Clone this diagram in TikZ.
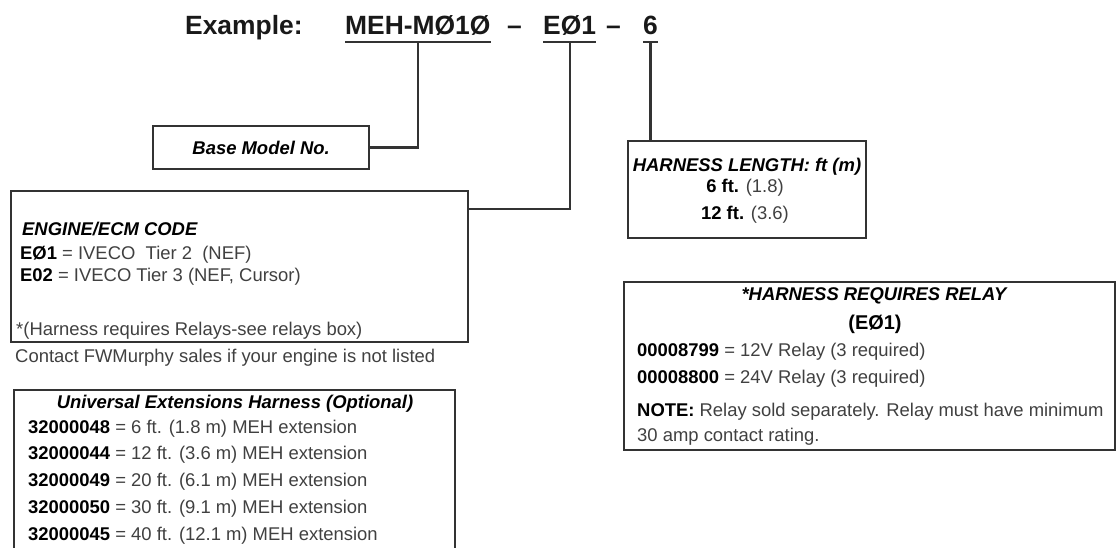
\documentclass[tikz,border=0pt]{standalone}
\usepackage{fontspec}
\setmainfont{Liberation Sans}
\usepackage{xcolor}
\usepackage{tikz}
\usetikzlibrary{calc}

\definecolor{inkgray}{gray}{0.25}
\newcommand{\partno}[1]{{\bfseries\color{black}#1}}

\tikzset{
  framebox/.style={draw=black!80, line width=2.2bp, inner sep=0pt, anchor=north west},
  wire/.style={draw=black!80, line width=2.2bp},
  txtline/.style={anchor=base west, inner sep=0pt, text=inkgray, font=\fontsize{18.5}{22}\selectfont},
  txtmid/.style={txtline, anchor=base},
  headline/.style={txtline, text=black, font=\fontsize{18.5}{22}\selectfont\bfseries\itshape},
  titletext/.style={anchor=base west, inner sep=0pt, text depth=7bp, text=black!90, font=\fontsize{26.5}{30}\selectfont\bfseries},
}

\begin{document}
\begin{tikzpicture}[x=1bp,y=-1bp]
\useasboundingbox (0,0) rectangle (1117,548);

% Example line
\node[titletext] (ex) at (185,35) {Example:};
\node[titletext] (model) at (345,35) {MEH-MØ1Ø};
\node[titletext] (dash1) at (507,35) {–};
\node[titletext] (code) at (543,35) {EØ1};
\node[titletext] (dash2) at (606,35) {–};
\node[titletext] (len) at (643,35) {6};

% Underlines
\foreach \n in {model,code,len} {
  \draw[wire] (\n.south west) -- (\n.south east);
}

% Boxes
\node[framebox, minimum width=216bp, minimum height=43bp,
  font=\fontsize{18.5}{22}\selectfont\bfseries\itshape] (base) at (152,125) {Base Model No.};
\node[framebox, minimum width=457bp, minimum height=151bp] (engine) at (10,190) {};
\node[framebox, minimum width=238bp, minimum height=97bp] (lenbox) at (627,140) {};
\node[framebox, minimum width=491bp, minimum height=168bp] (relay) at (623,281) {};
\node[framebox, minimum width=441bp, minimum height=175bp] (ext) at (13,389) {};

% Connectors
\draw[wire] (model.south) |- (base.east);
\draw[wire] (code.south) |- ([yshift=-19bp]engine.north east);
\draw[wire] (len.south) -- (len.south |- lenbox.north);

% Engine / ECM code
\node[headline] (enghead) at (22,236) {ENGINE/ECM CODE};
\node[txtline] (e01) at (20,260) {\partno{EØ1} = IVECO\ \ Tier 2\ \ (NEF)};
\node[txtline] (e02) at (20,282) {\partno{E02} = IVECO Tier 3 (NEF, Cursor)};
\node[txtline] (engnote) at (16,336) {*(Harness requires Relays-see relays box)};
\node[txtline] (contact) at (15,363) {Contact FWMurphy sales if your engine is not listed};

% Harness length
\node[headline, anchor=base] (lenhead) at (747,172) {HARNESS LENGTH: ft (m)};
\node[txtmid] (len6) at (745,193) {\partno{6 ft.} (1.8)};
\node[txtmid] (len12) at (745,220) {\partno{12 ft.} (3.6)};

% Relay
\node[headline, anchor=base] (relhead) at (874,301) {*HARNESS REQUIRES RELAY};
\node[txtmid, font=\fontsize{20}{24}\selectfont\bfseries, text=black] (relcode) at (875,330) {(EØ1)};
\node[txtline] (rel12) at (637,357) {\partno{00008799} = 12V Relay (3 required)};
\node[txtline] (rel24) at (637,384) {\partno{00008800} = 24V Relay (3 required)};
\node[txtline] (relnote) at (637,416) {\partno{NOTE:} Relay sold separately. Relay must have minimum};
\node[txtline] (relnote2) at (637,441) {30 amp contact rating.};

% Universal extensions
\node[headline, anchor=base] (exthead) at (235,408) {Universal Extensions Harness (Optional)};
\foreach \num/\txt [count=\k] in {32000048/{6 ft. (1.8 m)},32000044/{12 ft. (3.6 m)},
    32000049/{20 ft. (6.1 m)},32000050/{30 ft. (9.1 m)},32000045/{40 ft. (12.1 m)}} {
  \node[txtline] (ext\k) at (28,{433+26.75*(\k-1)}) {\partno{\num} = \txt{} MEH extension};
}

\end{tikzpicture}
\end{document}
